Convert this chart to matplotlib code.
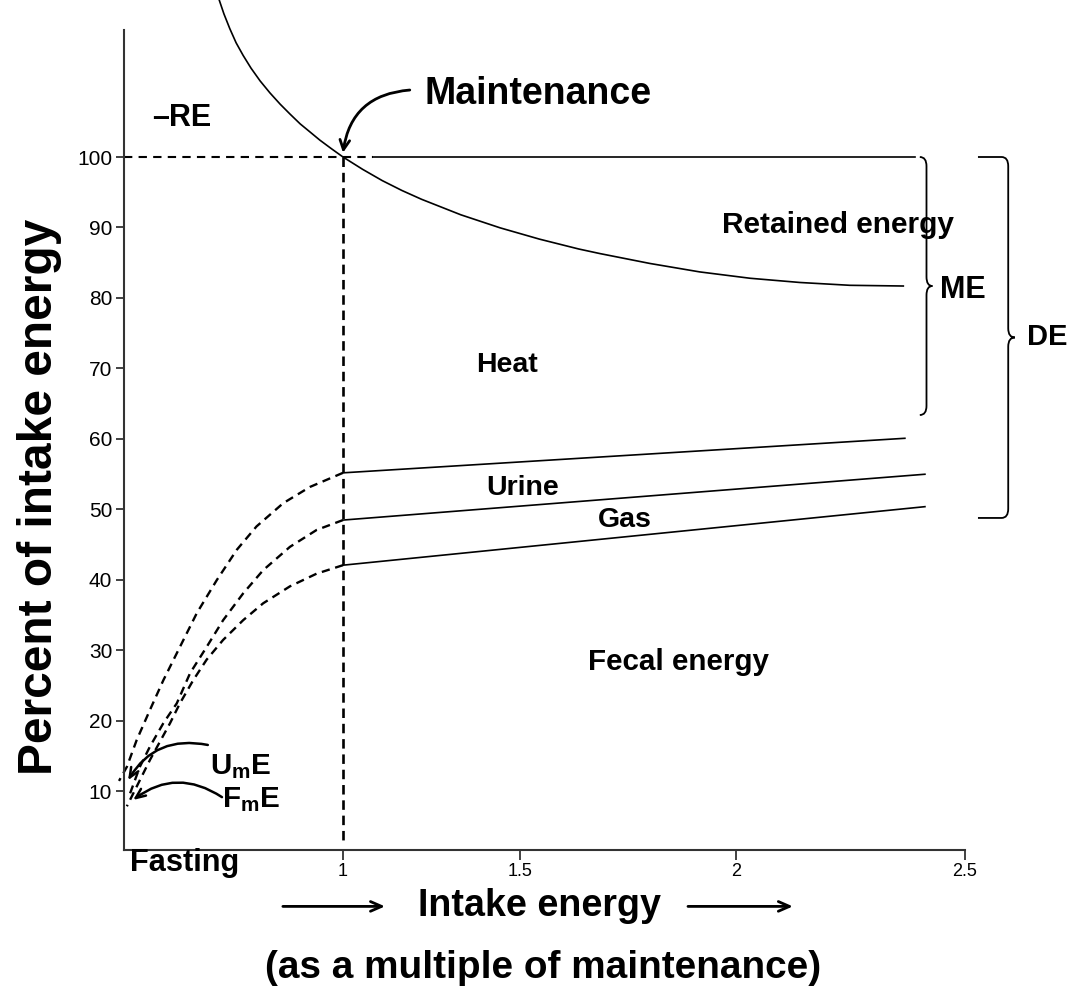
import numpy as np
import matplotlib
matplotlib.use('Agg')
import matplotlib.pyplot as plt
from matplotlib import font_manager
from matplotlib.path import Path
from matplotlib.patches import PathPatch

# fonts: Arial look-alike, narrow face for the condensed labels if it is there
names = {f.name for f in font_manager.fontManager.ttflist}
has_narrow = 'Liberation Sans Narrow' in names
NARROW = 'Liberation Sans Narrow' if has_narrow else 'Liberation Sans'
k = 1.0 if has_narrow else 0.82

plt.rcParams['font.family'] = ['Liberation Sans', 'DejaVu Sans']
plt.rcParams['mathtext.fontset'] = 'custom'
plt.rcParams['mathtext.bf'] = NARROW + ':bold'
plt.rcParams['mathtext.rm'] = NARROW + ':bold'

# ---- data ----
# x ticks are not evenly spaced on the original axis
tick_pos = [1.0, 1.45, 2.0, 2.583]
tick_labels = ['1', '1.5', '2', '2.5']
y_ticks = [10, 20, 30, 40, 50, 60, 70, 80, 90, 100]

# heat production curve (solid)
heat_x = [0.683, 0.697, 0.712, 0.728, 0.746, 0.766, 0.789, 0.814, 0.840, 0.865,
          0.891, 0.915, 0.941, 0.970, 1.000, 1.05, 1.10, 1.15, 1.20, 1.30,
          1.40, 1.50, 1.60, 1.654, 1.781, 1.908, 2.036, 2.163, 2.290, 2.426]
heat_y = [122.6, 120.3, 118.2, 116.2, 114.4, 112.6, 110.8, 109.1, 107.5, 106.1,
          104.7, 103.6, 102.4, 101.2, 100.0, 98.25, 96.65, 95.25, 94.0, 91.8,
          89.95, 88.35, 86.95, 86.3, 84.9, 83.7, 82.8, 82.2, 81.8, 81.7]

# solid lines above maintenance
me_x = [1.0, 2.430]
me_y = [55.2, 60.1]
urine_x = [1.0, 2.481]
urine_y = [48.5, 55.0]
gas_x = [1.0, 2.481]
gas_y = [42.1, 50.4]

# dashed lines below maintenance
dash_top_x = [1.0, 0.916, 0.848, 0.780, 0.730, 0.679, 0.628, 0.585, 0.543, 0.509, 0.475, 0.450, 0.430]
dash_top_y = [55.2, 53.2, 50.9, 47.6, 44.3, 40.0, 35.3, 30.5, 25.8, 21.6, 17.3, 13.5, 11.5]
dash_mid_x = [1.0, 0.933, 0.865, 0.797, 0.746, 0.695, 0.653, 0.611, 0.577, 0.543, 0.509, 0.483, 0.458]
dash_mid_y = [48.5, 47.1, 44.7, 41.4, 38.1, 34.3, 30.5, 26.8, 22.5, 19.7, 16.4, 13.5, 9.7]
dash_low_x = [1.0, 0.933, 0.865, 0.797, 0.746, 0.695, 0.653, 0.619, 0.585, 0.560, 0.509, 0.475, 0.450]
dash_low_y = [42.1, 40.9, 39.1, 36.7, 34.3, 31.5, 28.7, 25.8, 22.5, 19.7, 14.5, 10.7, 7.9]

maint_x = 1.0
maint_y = 100
me_span = [100, 63.4]
de_span = [100, 48.8]

fig = plt.figure(figsize=(10.71, 9.94), dpi=100)
ax = fig.add_axes([124/1071, 1 - 850/994, (965-124)/1071, 850/994])
ax.set_xlim(0.4427, 2.583)
ax.set_ylim(1.70, 122.27)

axc = '#333333'
for s in ['top', 'right']:
    ax.spines[s].set_visible(False)
for s in ['left', 'bottom']:
    ax.spines[s].set_color(axc)
    ax.spines[s].set_linewidth(1.5)
ax.spines['left'].set_bounds(1.70, 118.0)

ax.set_xticks(tick_pos)
ax.set_xticklabels(tick_labels, fontsize=13)
ax.set_yticks(y_ticks)
ax.set_yticklabels([str(v) for v in y_ticks], fontsize=15)
ax.tick_params(axis='x', length=7.5, width=1.3, color=axc, pad=2)
ax.tick_params(axis='y', length=6, width=1.3, color=axc, pad=2.5)

# dashed reference lines at maintenance
ax.plot([ax.get_xlim()[0], 1.076], [maint_y, maint_y], color='black', lw=1.5,
        linestyle=(0, (4, 3)))
ax.plot([1.076, 2.455], [maint_y, maint_y], color='black', lw=1.2)
ax.plot([maint_x, maint_x], [maint_y, 3.0], color='black', lw=1.9,
        linestyle=(0, (3.6, 2.2)))

ax.plot(heat_x, heat_y, color='black', lw=1.2, clip_on=False)
for xs, ys in [(me_x, me_y), (urine_x, urine_y), (gas_x, gas_y)]:
    ax.plot(xs, ys, color='black', lw=1.2)
for xs, ys in [(dash_top_x, dash_top_y), (dash_mid_x, dash_mid_y), (dash_low_x, dash_low_y)]:
    ax.plot(xs, ys, color='black', lw=1.7, linestyle=(0, (3.5, 2.4)), clip_on=False)


def brace(x_end, x_bar, x_tip, y_top, y_bot, r, arm=None):
    ym = (y_top + y_bot) / 2
    verts, codes = [], []
    if arm is not None:
        verts += [(arm, y_top), (x_end, y_top)]
        codes += [Path.MOVETO, Path.LINETO]
    else:
        verts += [(x_end, y_top)]
        codes += [Path.MOVETO]
    verts += [(x_bar, y_top), (x_bar, y_top - r), (x_bar, ym + r),
              (x_bar, ym), (x_tip, ym), (x_bar, ym), (x_bar, ym - r),
              (x_bar, y_bot + r), (x_bar, y_bot), (x_end, y_bot)]
    codes += [Path.CURVE3, Path.CURVE3, Path.LINETO,
              Path.CURVE3, Path.CURVE3, Path.CURVE3, Path.CURVE3,
              Path.LINETO, Path.CURVE3, Path.CURVE3]
    if arm is not None:
        verts += [(arm, y_bot)]
        codes += [Path.LINETO]
    ax.add_patch(PathPatch(Path(verts, codes), fill=False, lw=1.3,
                           edgecolor='black', clip_on=False))


brace(2.468, 2.485, 2.500, me_span[0], me_span[1], 1.3)
brace(2.676, 2.693, 2.710, de_span[0], de_span[1], 1.3, arm=2.616)

# labels inside the plot
bold = dict(fontweight='bold', color='black')
ax.text(1.496, 108.9, 'Maintenance', fontsize=27, ha='center', va='center', **bold)
ax.text(0.59, 105.5, '\u2013RE', fontsize=22, ha='center', va='center', **bold)
ax.text(2.26, 90.4, 'Retained energy', fontsize=21.5, ha='center', va='center', **bold)
ax.text(2.519, 81.1, 'ME', fontsize=22, ha='left', va='center', **bold, clip_on=False)
ax.text(2.740, 74.5, 'DE', fontsize=21, ha='left', va='center', **bold, clip_on=False)
ax.text(1.417, 70.5, 'Heat', fontsize=25*k, ha='center', va='center', fontfamily=NARROW, **bold)
ax.text(1.458, 53.0, 'Urine', fontsize=25*k, ha='center', va='center', fontfamily=NARROW, **bold)
ax.text(1.718, 48.5, 'Gas', fontsize=25*k, ha='center', va='center', fontfamily=NARROW, **bold)
ax.text(1.855, 28.4, 'Fecal energy', fontsize=26*k, ha='center', va='center', fontfamily=NARROW, **bold)
ax.text(0.662, 13.6, r'$\mathbf{U_mE}$', fontsize=26*k, ha='left', va='center')
ax.text(0.692, 8.9, r'$\mathbf{F_mE}$', fontsize=26*k, ha='left', va='center')

# curved pointer arrows
ax.annotate('', xy=(1.0, 100.6), xytext=(1.17, 109.5),
            arrowprops=dict(arrowstyle='->,head_length=0.7,head_width=0.35', lw=2,
                            color='black', connectionstyle='arc3,rad=0.4',
                            shrinkA=0, shrinkB=0))
ax.annotate('', xy=(0.453, 11.6), xytext=(0.656, 16.6),
            arrowprops=dict(arrowstyle='->,head_length=0.7,head_width=0.3', lw=1.8,
                            color='black', connectionstyle='arc3,rad=0.35',
                            shrinkA=0, shrinkB=0))
ax.annotate('', xy=(0.466, 8.8), xytext=(0.692, 9.2),
            arrowprops=dict(arrowstyle='->,head_length=0.7,head_width=0.3', lw=1.8,
                            color='black', connectionstyle='arc3,rad=0.35',
                            shrinkA=0, shrinkB=0))

# axis titles
ax.set_ylabel('Percent of intake energy', fontsize=40*k if has_narrow else 34.5,
              fontweight='bold', fontfamily=NARROW, va='center')
ax.yaxis.set_label_coords(-0.1, 0.415)
ax.text(0.458, -0.2, 'Fasting', fontsize=27*k, fontweight='bold', fontfamily=NARROW,
        ha='left', va='center')
ax.text(1.50, -6.2, 'Intake energy', fontsize=33*k, fontweight='bold', fontfamily=NARROW,
        ha='center', va='center')
ax.text(1.51, -15.0, '(as a multiple of maintenance)', fontsize=34*k, fontweight='bold',
        fontfamily=NARROW, ha='center', va='center')
for x0, x1 in [(0.847, 1.107), (1.878, 2.145)]:
    ax.annotate('', xy=(x1, -6.3), xytext=(x0, -6.3), annotation_clip=False,
                arrowprops=dict(arrowstyle='->,head_length=0.8,head_width=0.35', lw=2,
                                color='black', shrinkA=0, shrinkB=0))

fig.savefig('out.png', dpi=100)
